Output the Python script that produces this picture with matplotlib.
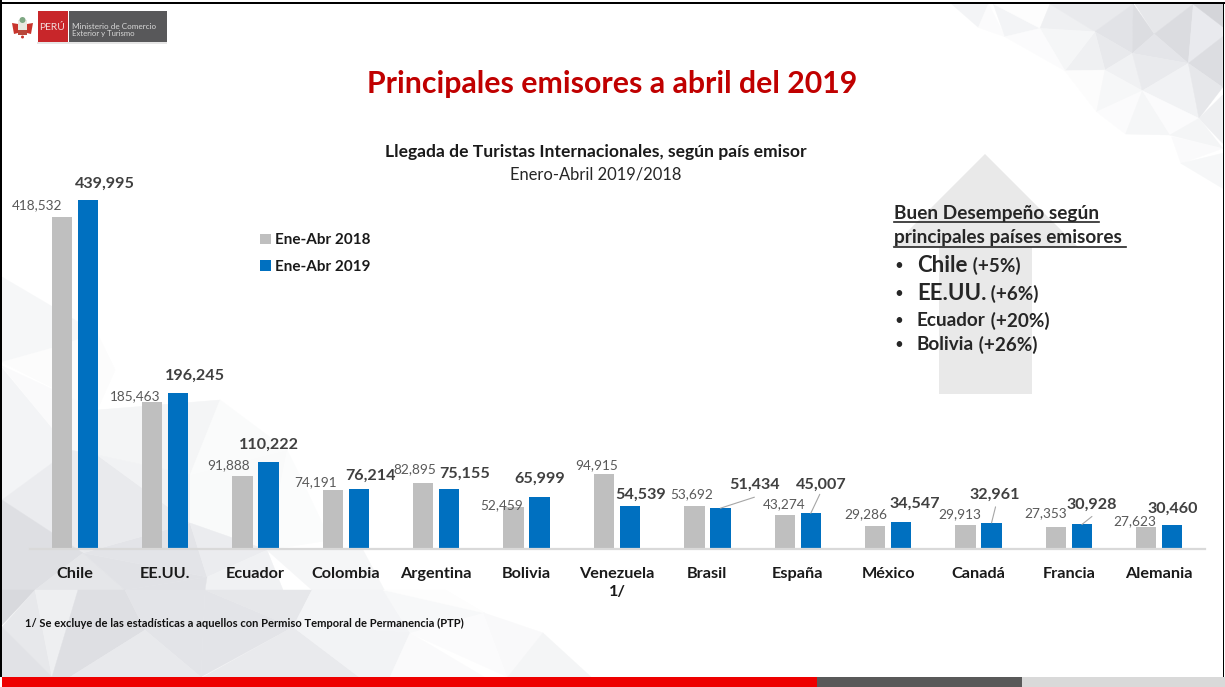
#!/bin/python3

import matplotlib
matplotlib.use("Agg")
import matplotlib.pyplot as plt
from matplotlib.patches import Polygon, Rectangle, Circle

plt.rcParams["font.family"] = ["Lato", "DejaVu Sans"]

countries = ["Chile", "EE.UU.", "Ecuador", "Colombia", "Argentina", "Bolivia", "Venezuela\n1/",
             "Brasil", "España", "México", "Canadá", "Francia", "Alemania"]
ene_abr_2018 = [418532, 185463, 91888, 74191, 82895, 52459, 94915, 53692, 43274, 29286, 29913, 27353, 27623]
ene_abr_2019 = [439995, 196245, 110222, 76214, 75155, 65999, 54539, 51434, 45007, 34547, 32961, 30928, 30460]

# label nudges in pixels, the labels were moved by hand in the original
offset_2018 = [(-25, 12), (-17, 6), (-14, 11), (-17, 8), (-8, 14), (-12, 2), (-7, 9),
               (-3, 12), (-1, 11), (-9, 12), (-6, 11), (-10, 14), (-12, 6)]
offset_2019 = [(17, 16), (17, 18), (1, 17), (12, 13), (15, 16), (0, 18), (11, 11),
               (34, 23), (10, 29), (14, 18), (3, 28), (10, 20), (0, 16)]
leaders = {7: (34, 11), 8: (9, 19), 10: (4, 16), 11: (10, 8)}

GRAY = "#bfbfbf"
BLUE = "#0070c0"
W, H = 1225, 687

# background facets, pixel coordinates
facets_top_right = [
    ([(80, 12), (190, 12), (160, 82)], "#f3f4f6"),
    ([(190, 12), (160, 82), (240, 110)], "#fbfbfc"),
    ([(205, 12), (345, 85), (240, 110)], "#f3f4f6"),
    ([(205, 12), (375, 12), (345, 85)], "#fdfdfd"),
    ([(375, 12), (345, 85), (510, 95)], "#eff0f2"),
    ([(375, 12), (625, 12), (510, 95)], "#e9eaed"),
    ([(510, 95), (625, 12), (622, 160)], "#e2e3e7"),
    ([(625, 12), (622, 160), (688, 102)], "#dcdde1"),
    ([(630, 12), (805, 12), (688, 102)], "#e6e7ea"),
    ([(805, 12), (688, 102), (790, 190)], "#dbdce0"),
    ([(805, 12), (893, 80), (893, 110), (790, 190)], "#e9eaee"),
    ([(805, 12), (893, 12), (893, 80)], "#d4d5d9"),
    ([(893, 110), (790, 190), (893, 262)], "#dcdde1"),
    ([(688, 102), (622, 160), (790, 190)], "#e4e5e9"),
    ([(510, 95), (622, 160), (540, 210)], "#e8e9ec"),
    ([(510, 95), (420, 212), (540, 210)], "#eff0f2"),
    ([(345, 85), (510, 95), (420, 212)], "#f5f6f7"),
    ([(240, 110), (345, 85), (420, 212)], "#fbfbfc"),
    ([(622, 160), (540, 210), (652, 272)], "#f0f1f3"),
    ([(622, 160), (790, 190), (652, 272)], "#e9eaed"),
    ([(790, 190), (652, 272), (822, 355)], "#f1f2f4"),
    ([(790, 190), (893, 262), (822, 355)], "#e6e7ea"),
    ([(893, 285), (822, 355), (893, 430)], "#eeeff1"),
    ([(420, 212), (540, 210), (515, 335)], "#fcfcfc"),
    ([(540, 210), (652, 272), (515, 335)], "#f6f7f8"),
    ([(515, 335), (652, 272), (602, 402)], "#fbfbfc"),
    ([(652, 272), (602, 402), (735, 405)], "#f5f6f7"),
    ([(652, 272), (822, 355), (735, 405)], "#fbfbfc"),
    ([(822, 355), (735, 405), (893, 445)], "#f4f5f6"),
    ([(740, 410), (893, 445), (768, 490)], "#fafafb"),
    ([(768, 490), (893, 460), (893, 565)], "#f6f7f8"),
]
facets_left = [
    ([(2, 277), (97, 333), (52, 348), (2, 362)], "#f6f7f8"),
    ([(2, 362), (52, 348), (97, 333), (115, 370), (97, 410)], "#fcfcfc"),
    ([(2, 368), (70, 450), (2, 500)], "#f3f4f6"),
    ([(2, 366), (97, 410), (97, 455), (70, 450)], "#fafafb"),
    ([(2, 500), (70, 450), (97, 455), (83, 553)], "#ebecef"),
    ([(2, 500), (83, 553), (35, 590), (2, 590)], "#dedfe3"),
    ([(83, 553), (35, 590), (125, 590)], "#e5e6e9"),
    ([(83, 553), (125, 590), (207, 577)], "#e1e2e6"),
    ([(83, 553), (190, 523), (207, 577)], "#e3e4e8"),
    ([(97, 455), (190, 523), (83, 553)], "#e9eaed"),
    ([(97, 410), (97, 455), (190, 475), (220, 400)], "#f4f5f6"),
    ([(97, 455), (190, 475), (190, 523)], "#f1f2f4"),
    ([(190, 475), (287, 450), (267, 550), (190, 523)], "#f9fafa"),
    ([(220, 400), (287, 450), (190, 475)], "#fafbfb"),
    ([(190, 523), (267, 550), (207, 577)], "#ebecef"),
    ([(207, 577), (267, 550), (287, 600), (205, 590)], "#f0f1f3"),
    ([(267, 550), (363, 550), (395, 610), (312, 590)], "#f5f6f7"),
    ([(287, 450), (297, 470), (330, 540), (267, 550)], "#fbfcfc"),
    ([(207, 577), (205, 590), (125, 590)], "#e1e2e6"),
    ([(2, 590), (35, 590), (2, 625)], "#d8d9dd"),
    ([(35, 590), (2, 627), (52, 677)], "#e7e8eb"),
    ([(35, 590), (78, 590), (52, 677)], "#eeeff1"),
    ([(2, 627), (52, 677), (2, 677)], "#e1e2e6"),
    ([(78, 590), (125, 590), (145, 630), (70, 677), (52, 677)], "#dedfe3"),
    ([(125, 590), (205, 590), (201, 677), (145, 630)], "#e3e4e8"),
    ([(145, 630), (70, 677), (201, 677)], "#e8e9ec"),
    ([(205, 590), (293, 627), (201, 677)], "#e3e4e8"),
    ([(293, 627), (203, 677), (359, 677)], "#e9eaed"),
    ([(205, 590), (312, 590), (293, 627)], "#e6e7ea"),
    ([(312, 590), (293, 627), (410, 633), (383, 590)], "#f3f4f6"),
    ([(293, 627), (359, 677), (390, 677), (410, 633)], "#f2f3f5"),
    ([(410, 633), (390, 677), (484, 677)], "#fafafb"),
    ([(383, 590), (484, 613), (410, 633)], "#f7f8f9"),
    ([(383, 590), (445, 590), (484, 613)], "#fdfdfd"),
    ([(484, 613), (410, 633), (508, 677)], "#fbfbfc"),
    ([(484, 613), (543, 633), (508, 677)], "#f9f9fa"),
    ([(543, 633), (508, 677), (591, 677)], "#f4f5f6"),
]

fig = plt.figure(figsize=(W / 100, H / 100), dpi=100, facecolor="white")

# page layer in pixel coordinates
bg = fig.add_axes([0, 0, 1, 1], zorder=0)
bg.set_xlim(0, W)
bg.set_ylim(H, 0)
bg.axis("off")

for pts, col in facets_left:
    bg.add_patch(Polygon(pts, closed=True, fc=col, ec=col, lw=0.3))
for pts, col in facets_top_right:
    pts = [(925 + x / 3, y / 3) for x, y in pts]
    bg.add_patch(Polygon(pts, closed=True, fc=col, ec=col, lw=0.3))

# frame and footer strip
bg.add_patch(Rectangle((0, 1.5), W, 2.5, fc="black", ec="none"))
bg.add_patch(Rectangle((0, 0), 1.5, 677, fc="black", ec="none"))
bg.add_patch(Rectangle((1222.5, 1.5), 1.5, 676, fc="black", ec="none"))
bg.add_patch(Rectangle((2, 677), 815, 10, fc="#ee0000", ec="none"))
bg.add_patch(Rectangle((817, 677), 205, 10, fc="#595959", ec="none"))
bg.add_patch(Rectangle((1022, 677), 203, 10, fc="#d9d9d9", ec="none"))

# logo
bg.add_patch(Rectangle((37, 42), 130, 1.5, fc="#e6e6e6", ec="none"))
bg.add_patch(Rectangle((37.5, 11), 30, 31, fc="#c8262a", ec="none"))
bg.add_patch(Rectangle((69, 11), 98, 31, fc="#58585a", ec="none"))
bg.text(52.5, 27, "PERÚ", color="#f2dcdc", fontsize=7.4, ha="center", va="center")
bg.text(72, 26.5, "Ministerio de Comercio", color="#d8d8d8", fontsize=5.9, va="center")
bg.text(72, 33.5, "Exterior y Turismo", color="#d8d8d8", fontsize=5.6, va="center")
bg.add_patch(Polygon([(12, 23), (18, 24), (18, 33), (14, 34)], fc="#c8342c", ec="none"))
bg.add_patch(Polygon([(33, 23), (27, 24), (27, 33), (31, 34)], fc="#c8342c", ec="none"))
bg.add_patch(Rectangle((18, 20), 9, 15, fc="#e8e8e0", ec="none"))
bg.add_patch(Rectangle((18, 30), 9, 5, fc="#b8473a", ec="none"))
bg.add_patch(Circle((22.5, 20), 3, fc="#7fa884", ec="none"))
bg.add_patch(Circle((22.5, 37), 1.5, fc="#c8342c", ec="none"))

# arrow behind the text box
arrow_pts = [(985, 154), (1078, 247), (1032, 247), (1032, 394), (939, 394), (939, 247), (892, 247)]
bg.add_patch(Polygon(arrow_pts, closed=True, fc="#e9e9e9", ec="none"))

# texts
bg.text(612, 84.5, "Principales emisores a abril del 2019", color="#c00000", fontsize=21.8,
        fontweight="bold", ha="center", va="center")
bg.text(595.5, 152, "Llegada de Turistas Internacionales, según país emisor", color="#1a1a1a",
        fontsize=12.6, fontweight="bold", ha="center", va="center")
bg.text(596, 174, "Enero-Abril 2019/2018", color="#262626", fontsize=11.9, ha="center", va="center")
bg.text(25, 623, "1/ Se excluye de las estadísticas a aquellos con Permiso Temporal de Permanencia (PTP)",
        color="#111111", fontsize=8, fontweight="bold", va="center")

TXT = "#262626"
bg.text(894, 213, "Buen Desempeño según", color=TXT, fontsize=13.7, fontweight="bold", va="center")
bg.text(894, 238, "principales países emisores", color=TXT, fontsize=13.7, fontweight="bold", va="center")
bg.plot([894, 1099], [221.5, 221.5], color=TXT, lw=1.2)
bg.plot([894, 1126], [246.5, 246.5], color=TXT, lw=1.2)
bullets = [(266, "Chile", 16, " (+5%)"), (294, "EE.UU.", 16, " (+6%)"),
           (321, "Ecuador", 13.6, " (+20%)"), (345, "Bolivia", 13.6, " (+26%)")]
for y, name, size, pct in bullets:
    bg.text(899, y, "•", color=TXT, fontsize=11, ha="center", va="center")
    t = bg.text(917, y, name, color=TXT, fontsize=size, fontweight="bold", va="center")
    bg.annotate(pct, xy=(1, 0.5), xycoords=t, color=TXT, fontsize=13.6, fontweight="bold", va="center")

# chart
ax = fig.add_axes([29.5 / W, (H - 549) / H, 1175 / W, 359 / H], zorder=1)
ax.patch.set_alpha(0)

x = range(len(countries))
bar_w = 0.225
shift = 13 / 90.38
b1 = ax.bar([i - shift for i in x], ene_abr_2018, bar_w, color=GRAY, label="Ene-Abr 2018")
b2 = ax.bar([i + shift for i in x], ene_abr_2019, bar_w, color=BLUE, label="Ene-Abr 2019")

ax.set_xlim(-0.5, len(countries) - 0.5)
ax.set_ylim(0, 439995 * 359 / 349)
ax.set_yticks([])
ax.set_xticks(list(x))
ax.set_xticklabels(countries, fontsize=11.7, fontweight="bold", color="#1a1a1a", linespacing=1.4)
ax.tick_params(axis="x", length=0, pad=13)
for s in ["top", "left", "right"]:
    ax.spines[s].set_visible(False)
ax.spines["bottom"].set_color("#d9d9d9")
ax.spines["bottom"].set_linewidth(1.6)

px = 0.72  # offset points per pixel at dpi 100
for i in x:
    ax.annotate(f"{ene_abr_2018[i]:,}", (i - shift, ene_abr_2018[i]),
                xytext=(offset_2018[i][0] * px, offset_2018[i][1] * px), textcoords="offset points",
                ha="center", va="center", fontsize=9.8, color="#595959")
    ax.annotate(f"{ene_abr_2019[i]:,}", (i + shift, ene_abr_2019[i]),
                xytext=(offset_2019[i][0] * px, offset_2019[i][1] * px), textcoords="offset points",
                ha="center", va="center", fontsize=11.6, fontweight="bold", color="#404040")
for i, (dx, dy) in leaders.items():
    ax.annotate("", (i + shift, ene_abr_2019[i]), xytext=(dx * px, dy * px), textcoords="offset points",
                arrowprops=dict(arrowstyle="-", color="#a6a6a6", lw=0.8, shrinkA=0, shrinkB=0))

leg = ax.legend(handles=[b1, b2], loc="upper left", bbox_to_anchor=(0.1963, 0.879), frameon=False,
                handlelength=0.68, handleheight=0.68, handletextpad=0.27, labelspacing=0.82,
                borderpad=0, borderaxespad=0, prop={"size": 11, "weight": "bold"})
for t in leg.get_texts():
    t.set_color("#1a1a1a")

fig.savefig("out.png", dpi=100)
